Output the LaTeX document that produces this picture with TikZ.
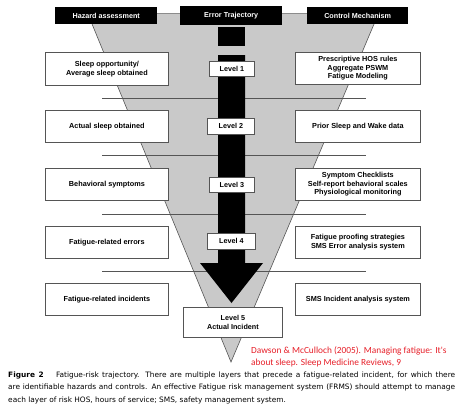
\documentclass[tikz,border=0pt]{standalone}
\usepackage{fontspec}
\setmainfont{Liberation Sans}
\newfontfamily\citefont{Carlito}
\newfontfamily\capfont{DejaVu Sans}
\definecolor{trigray}{RGB}{201,201,201}
\definecolor{edgegray}{RGB}{85,85,85}
\definecolor{topgray}{RGB}{140,140,140}
\definecolor{citered}{RGB}{230,30,40}
\begin{document}
\begin{tikzpicture}[x=1pt,y=-1pt,
  sidebox/.style={draw=edgegray, fill=white, line width=0.8pt, minimum width=123pt, minimum height=32pt, anchor=north west, align=center, font=\bfseries\fontsize{7.3}{8.7}\selectfont, inner sep=1pt},
  hdr/.style={fill=black, text=white, anchor=north west, font=\bfseries\fontsize{7.2}{8}\selectfont, inner sep=0pt},
  lvl/.style={draw=edgegray, fill=white, line width=0.8pt, anchor=north west, font=\bfseries\fontsize{7.2}{9.5}\selectfont, inner sep=0pt, align=center},
  sepline/.style={draw=edgegray, line width=0.8pt},
  captext/.style={anchor=west, inner sep=0pt, font=\capfont\fontsize{7.4}{8}\selectfont},
  citetext/.style={anchor=west, inner sep=0pt, text=citered, font=\citefont\fontsize{9.35}{10}\selectfont}]
\useasboundingbox (0,0) rectangle (472,413);
% funnel
\coordinate (tl) at (87.5,13);
\coordinate (tr) at (378.7,13);
\coordinate (ap) at (231,362);
\fill[trigray] (tl) -- (tr) -- (ap) -- cycle;
\draw[topgray, line width=0.8pt] (tl) -- (tr);
\draw[edgegray, line width=0.6pt] (tl) -- (ap) -- (tr);
% separators
\foreach \yy in {98,155,214,271} {
  \draw[sepline] (102,\yy) -- (366,\yy);
}
% black arrow
\fill[black] (218,27) rectangle (245,46);
\fill[black] (218,55) -- (245,55) -- (245,263) -- (263,263) -- (231.5,303) -- (200,263) -- (218,263) -- cycle;
% headers
\node[hdr, minimum width=102pt, minimum height=17pt] (hz) at (55,7) {Hazard assessment};
\node[hdr, minimum width=102pt, minimum height=19pt] (et) at (180,6) {Error Trajectory};
\node[hdr, minimum width=101pt, minimum height=17pt] (cm) at (307,7) {Control Mechanism};
% levels
\node[lvl, minimum width=45pt, minimum height=15pt] (lv1) at (209,61) {Level 1};
\node[lvl, minimum width=47pt, minimum height=16pt] (lv2) at (207,118) {Level 2};
\node[lvl, minimum width=45pt, minimum height=15pt] (lv3) at (209,177) {Level 3};
\node[lvl, minimum width=48pt, minimum height=16pt] (lv4) at (207,233) {Level 4};
\node[lvl, minimum width=99pt, minimum height=30pt] (lv5) at (183,307) {Level 5\\Actual Incident};
% left boxes
\node[sidebox, minimum height=33pt] (h1) at (45,52) {Sleep opportunity/\\Average sleep obtained};
\node[sidebox] (h2) at (45,110) {Actual sleep obtained};
\node[sidebox] (h3) at (45,168) {Behavioral symptoms};
\node[sidebox] (h4) at (45,226) {Fatigue-related errors};
\node[sidebox] (h5) at (45,283) {Fatigue-related incidents};
% right boxes
\node[sidebox, minimum width=125pt] (c1) at (295,52) {Prescriptive HOS rules\\Aggregate PSWM\\Fatigue Modeling};
\node[sidebox, minimum width=125pt] (c2) at (295,110) {Prior Sleep and Wake data};
\node[sidebox, minimum width=125pt] (c3) at (295,168) {Symptom Checklists\\Self-report behavioral scales\\Physiological monitoring};
\node[sidebox, minimum width=125pt] (c4) at (295,226) {Fatigue proofing strategies\\SMS Error analysis system};
\node[sidebox, minimum width=125pt] (c5) at (295,283) {SMS Incident analysis system};
% citation
\node[citetext] (ct1) at (251,351) {Dawson \& McCulloch (2005). Managing fatigue: It's};
\node[citetext] (ct2) at (251,363) {about sleep. Sleep Medicine Reviews, 9};
% caption
\node[captext] (cp1) at (8,375) {\makebox[447pt][s]{\textbf{Figure 2}\hspace{9pt} Fatigue-risk trajectory. There are multiple layers that precede a fatigue-related incident, for which there}};
\node[captext] (cp2) at (8,387.5) {\makebox[447pt][s]{are identifiable hazards and controls. An effective Fatigue risk management system (FRMS) should attempt to manage}};
\node[captext] (cp3) at (8,400) {each layer of risk HOS, hours of service; SMS, safety management system.};
\end{tikzpicture}
\end{document}
